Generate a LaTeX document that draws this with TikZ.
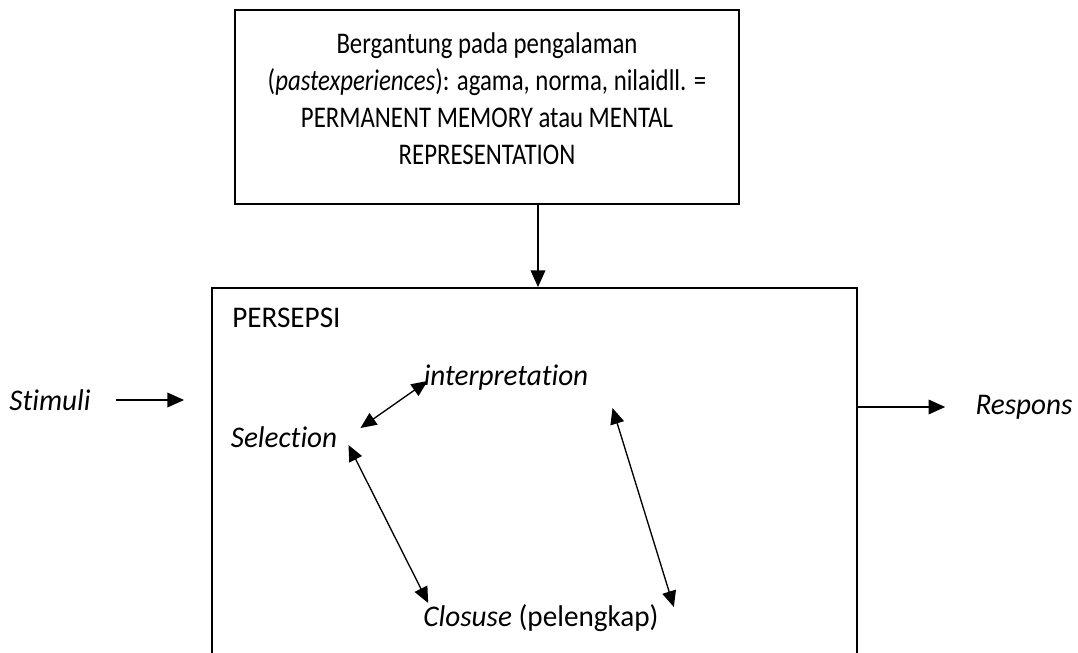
\documentclass[tikz,border=0pt]{standalone}
\usepackage{fontspec}
\setmainfont{Carlito}[FakeStretch=0.973,Ligatures=NoCommon]
\newfontfamily\memfont{Carlito}[FakeStretch=0.827,Ligatures=NoCommon]
\usetikzlibrary{arrows.meta,calc}

\begin{document}
\begin{tikzpicture}[x=0.75pt,y=-0.75pt,
			box/.style={draw,line width=1.4pt,inner sep=0pt},
			lbl/.style={inner sep=0pt,font=\fontsize{22.5}{26}\selectfont},
			arr/.style={line width=1pt,-{Triangle[length=12.5pt,width=11pt]}},
			dbl/.style={line width=1pt,{Triangle[length=12pt,width=10.5pt]}-{Triangle[length=12pt,width=10.5pt]}}]
			\useasboundingbox (0,0) rectangle (1078,653);
			\clip (0,0) rectangle (1078,653);
			% memory box
			\node[box,minimum width=378pt,minimum height=145.5pt] (mem) at (487,107) {};
			\node[align=center,inner sep=0pt,font=\memfont\fontsize{22.5}{27.75}\selectfont] (memtext) at (487,99)
			{Bergantung pada pengalaman\\(\textit{pastexperiences}): agama, norma, nilaidll. =\\PERMANENT MEMORY atau MENTAL\\REPRESENTATION};
			% persepsi box
			\node[box,minimum width=483.75pt,minimum height=294pt] (persepsibox) at (534.5,484) {};
			\node[lbl,anchor=west] (persepsi) at (232,318) {PERSEPSI};
			\coordinate (drop) at (538,0);
			\draw[arr] (mem.south -| drop) -- (persepsibox.north -| drop);
			% labels
			\node[lbl] (stimuli) at (50,400) {\textit{Stimuli}};
			\node[lbl] (selection) at (284,437) {\textit{Selection}};
			\node[lbl] (interp) at (506,378) {\textit{interpretation}};
			\node[lbl] (closuse) at (541,618) {\textit{Closuse} (pelengkap)};
			\node[lbl] (respons) at (1024,407) {\textit{Respons}};
			% in and out
			\draw[arr] ($(stimuli.east)+(25,0)$) -- ($(stimuli.east -| persepsibox.west)+(-27,0)$);
			\draw[arr] (persepsibox.east |- respons) -- ($(respons.west)+(-30,0)$);
			% cycle
			\draw[dbl] ($(selection.east)+(23,-9)$) -- ($(interp.west)+(4,3)$);
			\draw[dbl] ($(selection.east)+(11,8)$) -- ($(closuse.west)+(5,-15)$);
			\draw[dbl] ($(interp.east)+(24,30)$) -- ($(closuse.east)+(15,-11)$);
		\end{tikzpicture}
\end{document}
